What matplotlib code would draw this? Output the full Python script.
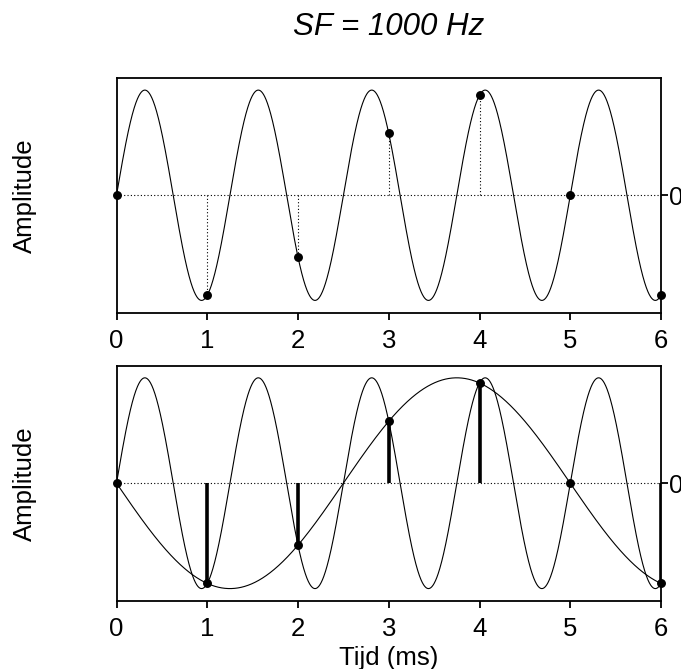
import numpy as np
import matplotlib
matplotlib.use("Agg")
import matplotlib.pyplot as plt

plt.rcParams['font.family'] = ['Liberation Sans', 'DejaVu Sans']

# Signal and sampling parameters
title_text = "SF = 1000 Hz"
x_label = "Tijd (ms)"
y_label = "Amplitude"
signal_khz = 0.8        # 800 Hz tone
alias_khz = 0.2         # 200 Hz alias (inverted phase)
sample_times = [0, 1, 2, 3, 4, 5, 6]                          # ms
sample_values = [0.0, -0.95, -0.59, 0.59, 0.95, 0.0, -0.95]    # amplitude at each sample
x_ticks = [0, 1, 2, 3, 4, 5, 6]

t = np.linspace(0, 6, 2000)
tone = np.sin(2 * np.pi * signal_khz * t)
alias = -np.sin(2 * np.pi * alias_khz * t)

W, H = 681, 669
fig = plt.figure(figsize=(W / 100, H / 100), dpi=100)

left = 116.5 / W
width = (661 - 116.5) / W
ax1 = fig.add_axes([left, 1 - 312.5 / H, width, (312.5 - 78) / H])
ax2 = fig.add_axes([left, 1 - 600.7 / H, width, (600.7 - 365.7) / H])

for ax in (ax1, ax2):
    ax.set_xlim(0, 6)
    ax.set_ylim(-1.115, 1.115)
    ax.plot(t, tone, color='black', lw=0.8)
    ax.axhline(0, color='black', lw=0.8, ls=(0, (1, 2)))
    for s in ax.spines.values():
        s.set_linewidth(1.3)
    ax.set_xticks(x_ticks)
    ax.set_xticklabels([str(v) for v in x_ticks])
    ax.tick_params(axis='x', direction='out', length=5, width=1.3, pad=7,
                   labelsize=18.5)
    ax.yaxis.tick_right()
    ax.set_yticks([0])
    ax.set_yticklabels(['0'])
    ax.tick_params(axis='y', direction='out', length=5, width=1.3, pad=0.5,
                   labelsize=18.5)
    ax.yaxis.set_label_position('left')
    ax.set_ylabel(y_label, fontsize=18.5)
    # label's baseline side sits at x = 37 px
    ax.yaxis.set_label_coords(-(116.5 - 37) / (661 - 116.5), 0.5)

# Top: samples with dotted drop lines
ax1.vlines(sample_times, 0, sample_values, colors='black', lw=0.8,
           linestyles=(0, (1, 2)))
ax1.plot(sample_times, sample_values, 'o', color='black', ms=5.4, clip_on=False,
         zorder=5)
ax1.set_title(title_text, fontsize=22.5, style='italic', pad=31)

# Bottom: sample stems and the reconstructed alias
ax2.plot(t, alias, color='black', lw=0.8)
ax2.vlines(sample_times, 0, sample_values, colors='black', lw=2.6)
ax2.plot(sample_times, sample_values, 'o', color='black', ms=5.4, clip_on=False,
         zorder=5)
ax2.set_xlabel(x_label, fontsize=18.5, labelpad=3)

fig.savefig("out.png", dpi=100)
